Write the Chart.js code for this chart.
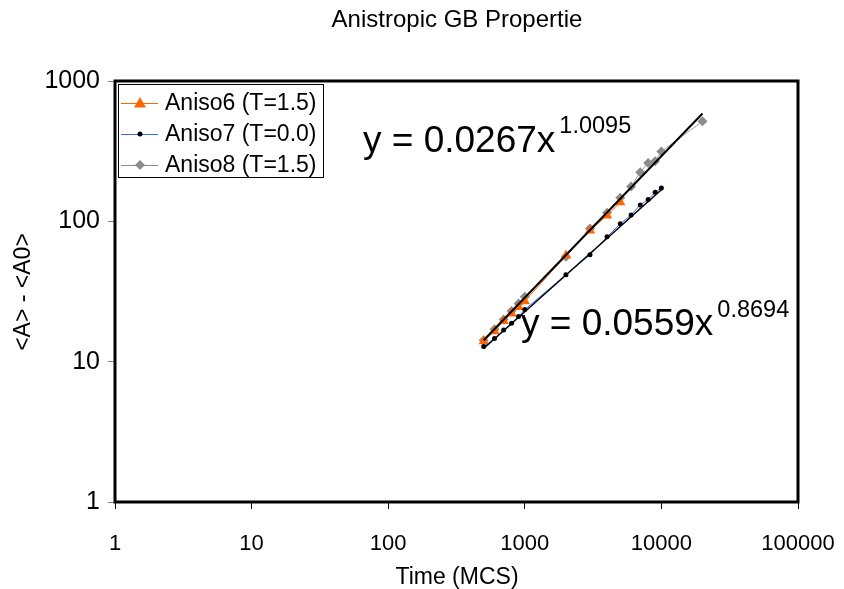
<!DOCTYPE html>
<html>
<head>
<meta charset="utf-8">
<script src="https://cdn.jsdelivr.net/npm/chart.js@4"></script>
<style>
html,body{margin:0;padding:0;background:#fff;}
#c{display:block;}
</style>
</head>
<body>
<canvas id="c" width="844" height="589"></canvas>
<script>
// ---- data ----
const chartTitle = "Anistropic GB Propertie";
const xTitle = "Time (MCS)";
const yTitle = "<A> - <A0>";
const xTicks = [1, 10, 100, 1000, 10000, 100000];
const yTicks = [1, 10, 100, 1000];

const timesA6 = [500, 600, 700, 800, 900, 1000, 2000, 3000, 4000, 5000];
const aniso6  = [14, 16.5, 19.5, 22, 24.5, 27, 57, 86, 110, 137];

const timesA7 = [500, 600, 700, 800, 900, 1000, 2000, 3000, 4000, 5000, 6000, 7000, 8000, 9000, 10000];
const aniso7  = [12.8, 14.6, 16.8, 18.8, 21, 23.5, 41.6, 57.8, 77.5, 96, 111, 131, 143, 161, 173];

const timesA8 = [500, 600, 700, 800, 900, 1000, 2000, 3000, 4000, 5000, 6000, 7000, 8000, 9000, 10000, 20000];
const aniso8  = [14.2, 17, 20, 23, 26, 29, 56, 89, 115, 147, 177, 224, 260, 268, 315, 516];

// trendline end points (power fits, straight on log-log)
const fit8X = [500, 20000];
const fit8Y = [14.2, 587];
const fit7X = [500, 10000];
const fit7Y = [12.4, 168];

const legendLabels = ["Aniso6 (T=1.5)", "Aniso7 (T=0.0)", "Aniso8 (T=1.5)"];
const eq1 = ["y = 0.0267x", "1.0095"];
const eq2 = ["y = 0.0559x", "0.8694"];

const pts = (xs, ys) => xs.map((x, i) => ({x: x, y: ys[i]}));
const FONT = '"Liberation Sans", Arial, sans-serif';

const C6 = '#FF6600', C7line = '#3366FF', C7pt = '#000000', C8 = '#8C8C8C';

function drawMarker(ctx, type, x, y) {
  ctx.save();
  if (type === 'tri') {
    ctx.fillStyle = C6;
    ctx.beginPath();
    ctx.moveTo(x, y - 6); ctx.lineTo(x + 6, y + 4.5); ctx.lineTo(x - 6, y + 4.5);
    ctx.closePath(); ctx.fill();
  } else if (type === 'dot') {
    ctx.fillStyle = C7pt;
    ctx.beginPath(); ctx.arc(x, y, 2.5, 0, Math.PI * 2); ctx.fill();
  } else {
    ctx.fillStyle = C8;
    ctx.beginPath();
    ctx.moveTo(x, y - 5); ctx.lineTo(x + 5, y); ctx.lineTo(x, y + 5); ctx.lineTo(x - 5, y);
    ctx.closePath(); ctx.fill();
  }
  ctx.restore();
}

const decor = {
  id: 'decor',
  afterDraw(chart) {
    const ctx = chart.ctx;
    const a = chart.chartArea;
    ctx.save();
    // plot border
    ctx.strokeStyle = '#000';
    ctx.lineWidth = 3;
    ctx.strokeRect(a.left, a.top, a.right - a.left, a.bottom - a.top);

    // title
    ctx.fillStyle = '#000';
    ctx.textAlign = 'center';
    ctx.textBaseline = 'alphabetic';
    ctx.font = '24px ' + FONT;
    ctx.fillText(chartTitle, 457, 27);

    // x axis title
    ctx.font = '23px ' + FONT;
    ctx.fillText(xTitle, 457, 584);

    // y axis title
    ctx.save();
    ctx.translate(30, 292);
    ctx.rotate(-Math.PI / 2);
    ctx.textBaseline = 'alphabetic';
    ctx.fillText(yTitle, 0, 0);
    ctx.restore();

    // legend
    ctx.lineWidth = 1;
    ctx.strokeStyle = '#000';
    ctx.fillStyle = '#fff';
    ctx.fillRect(118.5, 84.5, 205, 93);
    ctx.strokeRect(118.5, 84.5, 205, 93);
    const rows = [103, 134, 165];
    const lineCols = [C6, C7line, C8];
    const marks = ['tri', 'dot', 'dia'];
    ctx.textAlign = 'left';
    ctx.textBaseline = 'middle';
    ctx.font = '23px ' + FONT;
    rows.forEach((ry, i) => {
      ctx.strokeStyle = lineCols[i];
      ctx.lineWidth = 1;
      ctx.beginPath(); ctx.moveTo(121, ry + 0.5); ctx.lineTo(158, ry + 0.5); ctx.stroke();
      drawMarker(ctx, marks[i], 140, ry);
      ctx.fillStyle = '#000';
      ctx.fillText(legendLabels[i], 165, ry + 1);
    });

    // equations
    ctx.textBaseline = 'alphabetic';
    ctx.fillStyle = '#000';
    ctx.font = '37px ' + FONT;
    ctx.fillText(eq1[0], 363, 152);
    let w = ctx.measureText(eq1[0]).width;
    ctx.font = '23.5px ' + FONT;
    ctx.fillText(eq1[1], 363 + w + 4, 133);
    ctx.font = '37px ' + FONT;
    ctx.fillText(eq2[0], 521, 335);
    w = ctx.measureText(eq2[0]).width;
    ctx.font = '23.5px ' + FONT;
    ctx.fillText(eq2[1], 521 + w + 4, 317);
    ctx.restore();
  }
};

const fixTicks = (vals) => (scale) => { scale.ticks = vals.map(v => ({value: v})); };

new Chart(document.getElementById('c'), {
  type: 'scatter',
  data: {
    datasets: [
      { label: 'fit8', data: pts(fit8X, fit8Y), showLine: true, borderColor: '#000', borderWidth: 2,
        pointRadius: 0, order: 0 },
      { label: 'fit7', data: pts(fit7X, fit7Y), showLine: true, borderColor: '#000', borderWidth: 1.5,
        pointRadius: 0, order: 1 },
      { label: legendLabels[1], data: pts(timesA7, aniso7), showLine: true, borderColor: C7line, borderWidth: 1,
        pointStyle: 'circle', pointRadius: 2.5, pointBackgroundColor: C7pt, pointBorderWidth: 0, order: 2 },
      { label: legendLabels[0], data: pts(timesA6, aniso6), showLine: true, borderColor: C6, borderWidth: 1,
        pointStyle: 'triangle', pointRadius: 6, pointBackgroundColor: C6, pointBorderWidth: 0, order: 3 },
      { label: legendLabels[2], data: pts(timesA8, aniso8), showLine: true, borderColor: '#A0A0A0', borderWidth: 1,
        pointStyle: 'rectRot', pointRadius: 5, pointBackgroundColor: C8, pointBorderWidth: 0, order: 4 }
    ]
  },
  options: {
    responsive: false,
    animation: false,
    devicePixelRatio: 1,
    layout: { padding: { top: 81, right: 46, bottom: 0, left: 0 } },
    plugins: { legend: { display: false }, title: { display: false }, tooltip: { enabled: false } },
    elements: { line: { tension: 0 } },
    scales: {
      x: {
        type: 'logarithmic', min: 1, max: 100000,
        afterBuildTicks: fixTicks(xTicks),
        afterFit: (s) => { s.height = 87; s.paddingLeft = 0; s.paddingRight = 0; },
        grid: { display: true, drawOnChartArea: false, drawTicks: true, tickLength: 7, color: '#000', lineWidth: 1 },
        border: { display: false },
        ticks: { color: '#000', font: { family: FONT, size: 22 }, padding: 22, maxRotation: 0, autoSkip: false,
                 callback: (v) => String(v) }
      },
      y: {
        type: 'logarithmic', min: 1, max: 1000,
        afterBuildTicks: fixTicks(yTicks),
        afterFit: (s) => { s.width = 115; s.paddingTop = 0; s.paddingBottom = 0; },
        grid: { display: true, drawOnChartArea: false, drawTicks: true, tickLength: 7, color: '#808080', lineWidth: 1 },
        border: { display: false },
        ticks: { color: '#000', font: { family: FONT, size: 25 }, padding: 8, autoSkip: false,
                 callback: (v) => String(v) }
      }
    }
  },
  plugins: [decor]
});
</script>
</body>
</html>
